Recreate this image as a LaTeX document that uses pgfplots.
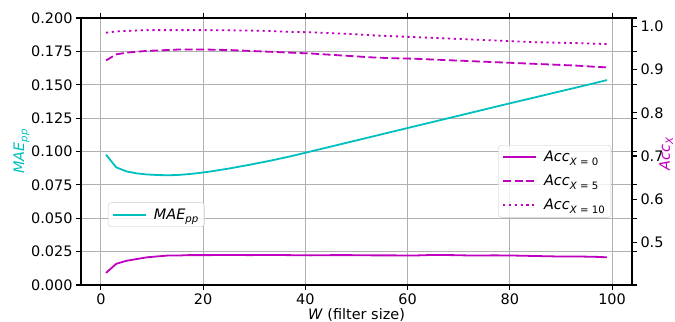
\documentclass[border=0pt]{standalone}
\usepackage{fontspec}
\setmainfont{DejaVu Sans}
\usepackage{pgfplots}
\usepackage{pgfplotstable}
\pgfplotsset{compat=1.18}
\definecolor{mc}{rgb}{0.75,0,0.75}
\definecolor{cc}{rgb}{0,0.75,0.75}
\newcommand{\sub}[1]{\raisebox{-3.2bp}{\fontsize{10.2}{12}\selectfont #1}}
\pgfplotstableread{
x mae a0 a5 a10
1 0.0976 0.430 0.921 0.985
3 0.0881 0.451 0.935 0.988
5 0.0851 0.458 0.939 0.989
7 0.0836 0.462 0.941 0.990
9 0.0828 0.466 0.943 0.991
11 0.0824 0.468 0.944 0.991
13 0.0822 0.470 0.945 0.991
15 0.0824 0.470 0.946 0.991
17 0.0830 0.471 0.946 0.991
19 0.0838 0.471 0.946 0.991
21 0.0848 0.471 0.946 0.991
25 0.0872 0.4715 0.945 0.9905
29 0.0900 0.471 0.943 0.990
33 0.0930 0.4715 0.941 0.989
37 0.0963 0.471 0.939 0.987
41 0.1000 0.4705 0.937 0.986
45 0.1037 0.471 0.934 0.984
49 0.1074 0.471 0.931 0.982
53 0.1111 0.4705 0.928 0.979
57 0.1148 0.4705 0.926 0.977
61 0.1185 0.470 0.925 0.975
65 0.1222 0.4715 0.923 0.973
69 0.1259 0.471 0.921 0.971
73 0.1296 0.470 0.919 0.969
77 0.1333 0.4705 0.917 0.967
81 0.1370 0.470 0.915 0.965
85 0.1406 0.469 0.913 0.963
89 0.1443 0.468 0.911 0.962
93 0.1479 0.468 0.909 0.961
97 0.1516 0.467 0.906 0.9595
99 0.1535 0.466 0.905 0.9588
}\datatab
\begin{document}
\begin{tikzpicture}[x=1bp,y=1bp]
\path[use as bounding box] (-81bp,-37bp) rectangle (594bp,285bp);
\pgfplotsset{
  every axis/.append style={
    scale only axis, width=551bp, height=267bp,
    xmin=-3.9, xmax=103.9,
    at={(0,0)}, anchor=south west,
    tick align=outside,
    major tick length=5bp,
    every tick/.style={black, line width=1.1bp},
    axis line style={line width=1.1bp},
    tick label style={font=\fontsize{14.5}{17}\selectfont},
    label style={font=\fontsize{14.5}{17}\selectfont},
    /pgf/number format/assume math mode=true,
    legend style={font=\fontsize{14.5}{17}\selectfont, draw=black!20, rounded corners=3bp,
      fill=white, fill opacity=0.8, text opacity=1, inner xsep=4bp, inner ysep=4bp, row sep=8bp,
      /tikz/every odd column/.append style={column sep=5bp}},
    legend image code/.code={\draw[#1] (0bp,0bp) -- (33bp,0bp);},
    legend cell align=left,
  }
}
\begin{axis}[
  ymin=0, ymax=0.2,
  ytick={0,0.025,...,0.2},
  xtick={0,20,...,100},
  grid=major,
  grid style={color=black!31, line width=1.1bp},
  yticklabel style={/pgf/number format/.cd, fixed, fixed zerofill, precision=3},
  xlabel={\textit{W} (filter size)},
  ylabel={\textcolor{cc}{\textit{MAE}\sub{\textit{pp}}}},
  ylabel style={at={(axis description cs:-0.108,0.5)}, anchor=center},
  xlabel style={yshift=3bp},
  legend style={at={(0.049,0.309)}, anchor=north west},
]
\addplot[cc, line width=1.8bp] table[x=x, y=mae] {\datatab};
\addlegendentry{\textit{MAE}\sub{\textit{pp}}}
\end{axis}
\begin{axis}[
  axis y line*=right, axis x line=none,
  ymin=0.402, ymax=1.019,
  ytick={0.5,0.6,...,1.0},
  yticklabel style={/pgf/number format/.cd, fixed, fixed zerofill, precision=1},
  ylabel={\textcolor{mc}{\textit{Acc}\sub{\textit{X}}}},
  ylabel style={at={(axis description cs:1.062,0.49)}, anchor=center},
  legend style={at={(0.962,0.524)}, anchor=north east},
]
\addplot[mc, line width=1.8bp] table[x=x, y=a0] {\datatab};
\addlegendentry{\textit{Acc}\sub{\textit{X} = 0}}
\addplot[mc, line width=1.8bp, dash pattern=on 8bp off 3.5bp] table[x=x, y=a5] {\datatab};
\addlegendentry{\textit{Acc}\sub{\textit{X} = 5}}
\addplot[mc, line width=1.8bp, dash pattern=on 2.2bp off 3.6bp] table[x=x, y=a10] {\datatab};
\addlegendentry{\textit{Acc}\sub{\textit{X} = 10}}
\end{axis}
\end{tikzpicture}
\end{document}
